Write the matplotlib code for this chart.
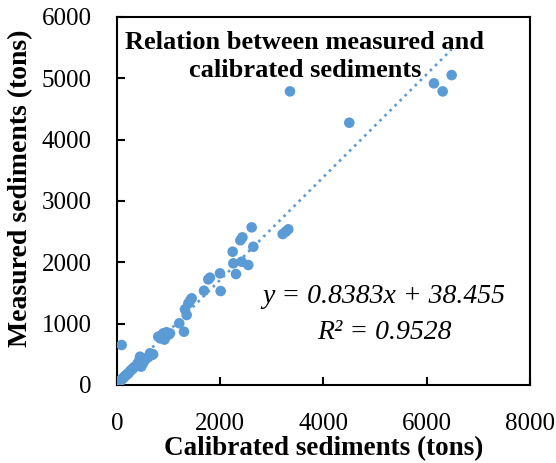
import matplotlib
matplotlib.use("Agg")
import matplotlib.pyplot as plt
import numpy as np

calibrated = [10, 20, 30, 45, 60, 80, 100, 120, 140, 160, 180, 200, 220, 250, 270,
              300, 320, 350, 380, 400, 420, 446, 430, 470, 500, 520, 550, 600, 640, 672, 700,
              90,
              800, 840, 870, 897, 920, 960, 1000, 1027, 1207, 1298, 1317, 1350, 1382, 1420, 1447,
              1685, 1769, 1800, 1995, 2008, 2241, 2253, 2305, 2415, 2390, 2430, 2543, 2609, 2641,
              3210, 3270, 3318, 3351,
              4500, 6140, 6309, 6483]
measured = [20, 30, 40, 50, 60, 80, 100, 110, 130, 150, 160, 180, 190, 220, 240,
            260, 280, 300, 320, 350, 380, 461, 310, 300, 350, 380, 420, 450, 516, 489, 500,
            652,
            787, 760, 815, 842, 740, 860, 820, 842, 1006, 869, 1234, 1141, 1331, 1380, 1413,
            1537, 1722, 1750, 1820, 1532, 2173, 1983, 1809, 2010, 2360, 2407, 1956, 2570, 2254,
            2461, 2500, 2538, 4787,
            4276, 4918, 4787, 5053]

slope = 0.8383
intercept = 38.455
x_ticks = [0, 2000, 4000, 6000, 8000]
y_ticks = [0, 1000, 2000, 3000, 4000, 5000, 6000]

blue = "#5B9BD5"
serif = ["Liberation Serif", "DejaVu Serif"]

fig = plt.figure(figsize=(5.56, 4.63), dpi=100)
ax = fig.add_axes([0.2104, 0.1685, 0.7428, 0.7948])

ax.scatter(calibrated, measured, s=58, color=blue, edgecolors="none", zorder=3)
xl = np.array([0, max(calibrated)])
ax.plot(xl, slope * xl + intercept, color=blue, linestyle=(0, (1, 1.7)), linewidth=1.9, zorder=2)

ax.set_xlim(0, 8000)
ax.set_ylim(0, 6000)
ax.set_xticks(x_ticks)
ax.set_yticks(y_ticks)
ax.tick_params(direction="in", length=6, width=1.5)
ax.tick_params(axis="y", pad=18)
ax.tick_params(axis="x", pad=20)
for lab in ax.get_xticklabels() + ax.get_yticklabels():
    lab.set_fontfamily(serif)
    lab.set_fontsize(18)
for s in ax.spines.values():
    s.set_linewidth(1.5)
    s.set_color("black")

ax.set_xlabel("Calibrated sediments (tons)", fontfamily=serif, fontsize=19.5,
              fontweight="bold", labelpad=1)
ax.set_ylabel("Measured sediments (tons)", fontfamily=serif, fontsize=20,
              fontweight="bold")
ax.yaxis.set_label_coords(-0.203, 0.535)

ax.text(0.455, 0.962, "Relation between measured and\ncalibrated sediments",
        transform=ax.transAxes, ha="center", va="top", fontfamily=serif,
        fontsize=19, fontweight="bold", linespacing=1.3)
ax.text(0.645, 0.24, "y = 0.8383x + 38.455", transform=ax.transAxes, ha="center",
        va="center", fontfamily=serif, fontsize=20, fontstyle="italic")
ax.text(0.648, 0.142, "R\u00b2 = 0.9528", transform=ax.transAxes, ha="center",
        va="center", fontfamily=serif, fontsize=20, fontstyle="italic")

fig.savefig("out.png", dpi=100)
